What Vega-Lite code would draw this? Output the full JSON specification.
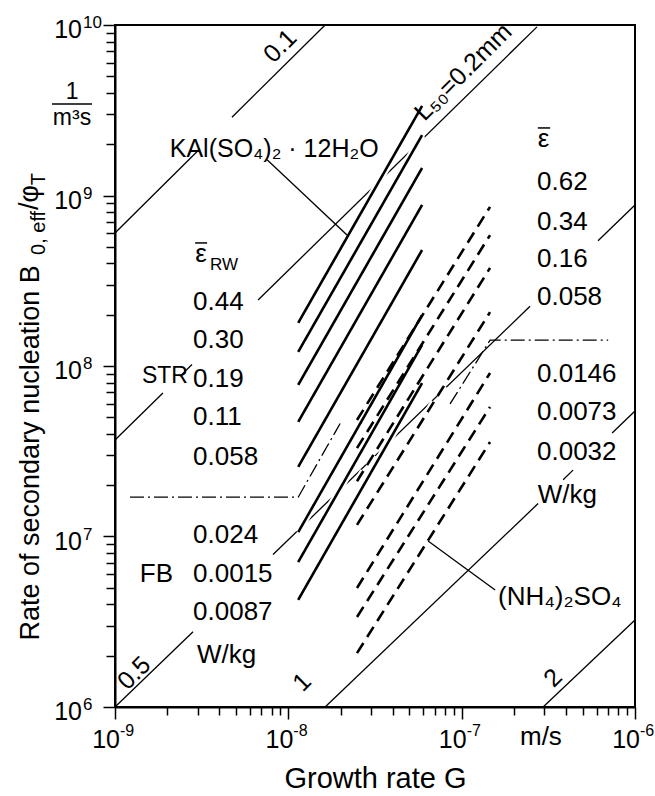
{
  "$schema": "https://vega.github.io/schema/vega-lite/v6.json",
  "width": 520,
  "height": 682,
  "autosize": {"type": "none"},
  "padding": {"left": 115, "top": 25, "right": 20, "bottom": 89},
  "background": "white",
  "config": {
    "view": {"stroke": "black", "strokeWidth": 2},
    "font": "Liberation Sans"
  },
  "datasets": {
    "sizeLines": [
      {"L": "0.1", "part": 1, "G": 1e-9, "B": 6.03e8},
      {"L": "0.1", "part": 1, "G": 3.09e-9, "B": 1.88e9},
      {"L": "0.1", "part": 2, "G": 4.73e-9, "B": 2.88e9},
      {"L": "0.1", "part": 2, "G": 1.63e-8, "B": 1e10},
      {"L": "0.2", "part": 1, "G": 1e-9, "B": 3.68e7},
      {"L": "0.2", "part": 1, "G": 1.89e-9, "B": 6.94e7},
      {"L": "0.2", "part": 2, "G": 2.37e-9, "B": 8.69e7},
      {"L": "0.2", "part": 2, "G": 2.78e-9, "B": 1.02e8},
      {"L": "0.2", "part": 3, "G": 6.69e-9, "B": 2.44e8},
      {"L": "0.2", "part": 3, "G": 2.72e-7, "B": 9.75e9},
      {"L": "0.5", "part": 1, "G": 1e-9, "B": 1e6},
      {"L": "0.5", "part": 1, "G": 2.82e-9, "B": 2.76e6},
      {"L": "0.5", "part": 2, "G": 8.16e-9, "B": 7.84e6},
      {"L": "0.5", "part": 2, "G": 2.48e-7, "B": 2.24e8},
      {"L": "0.5", "part": 3, "G": 6.12e-7, "B": 5.43e8},
      {"L": "0.5", "part": 3, "G": 1e-6, "B": 8.8e8},
      {"L": "1", "part": 1, "G": 1.63e-8, "B": 1e6},
      {"L": "1", "part": 1, "G": 2.76e-7, "B": 1.56e7},
      {"L": "1", "part": 2, "G": 3.85e-7, "B": 2.15e7},
      {"L": "1", "part": 2, "G": 4.39e-7, "B": 2.45e7},
      {"L": "1", "part": 3, "G": 7.38e-7, "B": 4.05e7},
      {"L": "1", "part": 3, "G": 1e-6, "B": 5.45e7},
      {"L": "2", "part": 1, "G": 2.95e-7, "B": 1e6},
      {"L": "2", "part": 1, "G": 1e-6, "B": 3.24e6}
    ],
    "measured": [
      {"salt": "KAl", "eps": "0.44", "G": 1.14e-8, "B": 1.79e8},
      {"salt": "KAl", "eps": "0.44", "G": 5.91e-8, "B": 3.35e9},
      {"salt": "KAl", "eps": "0.30", "G": 1.14e-8, "B": 1.21e8},
      {"salt": "KAl", "eps": "0.30", "G": 5.91e-8, "B": 2.26e9},
      {"salt": "KAl", "eps": "0.19", "G": 1.14e-8, "B": 7.75e7},
      {"salt": "KAl", "eps": "0.19", "G": 5.91e-8, "B": 1.45e9},
      {"salt": "KAl", "eps": "0.11", "G": 1.14e-8, "B": 4.70e7},
      {"salt": "KAl", "eps": "0.11", "G": 5.91e-8, "B": 8.80e8},
      {"salt": "KAl", "eps": "0.058", "G": 1.14e-8, "B": 2.56e7},
      {"salt": "KAl", "eps": "0.058", "G": 5.91e-8, "B": 4.79e8},
      {"salt": "KAl", "eps": "0.024", "G": 1.14e-8, "B": 1.06e7},
      {"salt": "KAl", "eps": "0.024", "G": 5.91e-8, "B": 1.99e8},
      {"salt": "KAl", "eps": "0.0015", "G": 1.14e-8, "B": 7.08e6},
      {"salt": "KAl", "eps": "0.0015", "G": 5.91e-8, "B": 1.33e8},
      {"salt": "KAl", "eps": "0.0087", "G": 1.14e-8, "B": 4.25e6},
      {"salt": "KAl", "eps": "0.0087", "G": 5.91e-8, "B": 7.94e7},
      {"salt": "NH4", "eps": "0.62", "G": 2.49e-8, "B": 4.82e7},
      {"salt": "NH4", "eps": "0.62", "G": 1.458e-7, "B": 8.58e8},
      {"salt": "NH4", "eps": "0.34", "G": 2.49e-8, "B": 3.30e7},
      {"salt": "NH4", "eps": "0.34", "G": 1.458e-7, "B": 5.86e8},
      {"salt": "NH4", "eps": "0.16", "G": 2.49e-8, "B": 2.11e7},
      {"salt": "NH4", "eps": "0.16", "G": 1.458e-7, "B": 3.76e8},
      {"salt": "NH4", "eps": "0.058", "G": 2.49e-8, "B": 1.17e7},
      {"salt": "NH4", "eps": "0.058", "G": 1.458e-7, "B": 2.07e8},
      {"salt": "NH4", "eps": "0.0146", "G": 2.49e-8, "B": 4.99e6},
      {"salt": "NH4", "eps": "0.0146", "G": 1.458e-7, "B": 9.10e7},
      {"salt": "NH4", "eps": "0.0073", "G": 2.49e-8, "B": 3.37e6},
      {"salt": "NH4", "eps": "0.0073", "G": 1.458e-7, "B": 5.75e7},
      {"salt": "NH4", "eps": "0.0032", "G": 2.49e-8, "B": 2.07e6},
      {"salt": "NH4", "eps": "0.0032", "G": 1.458e-7, "B": 3.58e7}
    ],
    "regimeBounds": [
      {"salt": "KAl", "G": 1.22e-9, "B": 1.70e7},
      {"salt": "KAl", "G": 1.14e-8, "B": 1.70e7},
      {"salt": "KAl", "G": 1.99e-8, "B": 4.60e7},
      {"salt": "NH4", "G": 8.57e-8, "B": 5.99e7},
      {"salt": "NH4", "G": 1.46e-7, "B": 1.42e8},
      {"salt": "NH4", "G": 7.0e-7, "B": 1.42e8}
    ],
    "leaders": [
      {"to": "KAl", "G": 7.54e-9, "B": 1.62e9},
      {"to": "KAl", "G": 2.18e-8, "B": 5.87e8},
      {"to": "NH4", "G": 6.40e-8, "B": 9.41e6},
      {"to": "NH4", "G": 1.56e-7, "B": 4.86e6}
    ],
    "xDecades": [
      {"G": 1e-9, "B": 1e6, "e": "-9"},
      {"G": 1e-8, "B": 1e6, "e": "-8"},
      {"G": 1e-7, "B": 1e6, "e": "-7"},
      {"G": 1e-6, "B": 1e6, "e": "-6"}
    ],
    "yDecades": [
      {"G": 1e-9, "B": 1e6, "e": "6"},
      {"G": 1e-9, "B": 1e7, "e": "7"},
      {"G": 1e-9, "B": 1e8, "e": "8"},
      {"G": 1e-9, "B": 1e9, "e": "9"},
      {"G": 1e-9, "B": 1e10, "e": "10"}
    ],
    "epsLabels": [
      {"t": "0.44", "G": 2.82e-9, "B": 2.13e8},
      {"t": "0.30", "G": 2.82e-9, "B": 1.28e8},
      {"t": "0.19", "G": 2.82e-9, "B": 7.54e7},
      {"t": "0.11", "G": 2.82e-9, "B": 4.51e7},
      {"t": "0.058", "G": 2.82e-9, "B": 2.62e7},
      {"t": "0.024", "G": 2.82e-9, "B": 9.16e6},
      {"t": "0.0015", "G": 2.82e-9, "B": 5.41e6},
      {"t": "0.0087", "G": 2.82e-9, "B": 3.24e6},
      {"t": "0.62", "G": 2.72e-7, "B": 1.08e9},
      {"t": "0.34", "G": 2.72e-7, "B": 6.28e8},
      {"t": "0.16", "G": 2.72e-7, "B": 3.81e8},
      {"t": "0.058", "G": 2.72e-7, "B": 2.28e8},
      {"t": "0.0146", "G": 2.72e-7, "B": 8.05e7},
      {"t": "0.0073", "G": 2.72e-7, "B": 4.82e7},
      {"t": "0.0032", "G": 2.72e-7, "B": 2.81e7},
      {"t": "ε", "G": 2.75e-7, "B": 1.92e9},
      {"t": "ε", "G": 2.90e-9, "B": 4.07e8}
    ],
    "epsSub": [
      {"t": "RW", "G": 3.53e-9, "B": 3.66e8}
    ],
    "bars": [
      {"G": 2.90e-9, "G2": 3.40e-9, "B": 5.27e8},
      {"G": 2.75e-7, "G2": 3.24e-7, "B": 2.49e9},
      {"G": 4.33e-10, "G2": 7.37e-10, "B": 3.44e9}
    ],
    "strLabel": [
      {"t": "STR", "G": 1.43e-9, "B": 7.94e7}
    ],
    "saltNote": [
      {"t": "KAl(SO₄)₂ · 12H₂O", "G": 2.07e-9, "B": 1.68e9}
    ],
    "notes": [
      {"t": "(NH₄)₂SO₄", "G": 1.62e-7, "B": 3.96e6},
      {"t": "FB", "G": 1.39e-9, "B": 5.41e6},
      {"t": "W/kg", "G": 2.97e-9, "B": 1.81e6},
      {"t": "W/kg", "G": 2.75e-7, "B": 1.57e7},
      {"t": "m/s", "G": 2.17e-7, "B": 5.98e5}
    ],
    "sizeTags": [
      {"t": "0.1", "G": 8.96e-9, "B": 7.53e9},
      {"t": "0.5", "G": 1.29e-9, "B": 1.58e6},
      {"t": "1", "G": 1.20e-8, "B": 1.40e6},
      {"t": "2", "G": 3.37e-7, "B": 1.48e6},
      {"t": "L₅₀=0.2mm", "G": 1.02e-7, "B": 5.30e9}
    ],
    "unitText": [
      {"t": "1", "G": 5.65e-10, "B": 4.05e9},
      {"t": "m³s", "G": 5.65e-10, "B": 2.85e9}
    ],
    "titleSub": [
      {"t": "0, eff", "G": 3.95e-10, "B": 4.48e8},
      {"t": "T", "G": 3.95e-10, "B": 1.15e9}
    ],
    "titleMain": [
      {"t": "/φ", "G": 3.59e-10, "B": 8.22e8}
    ]
  },
  "encoding": {
    "x": {
      "field": "G",
      "type": "quantitative",
      "scale": {"type": "log", "domain": [1e-9, 1e-6], "nice": false},
      "axis": {
        "values": [1e-9, 2e-9, 3e-9, 4e-9, 5e-9, 6e-9, 7e-9, 8e-9, 9e-9, 1e-8, 2e-8, 3e-8, 4e-8, 5e-8, 6e-8, 7e-8, 8e-8, 9e-8, 1e-7, 2e-7, 3e-7, 4e-7, 5e-7, 6e-7, 7e-7, 8e-7, 9e-7, 1e-6],
        "labels": false,
        "tickSize": {"condition": {"test": "abs(log(datum.value)/LN10 - round(log(datum.value)/LN10)) < 0.001", "value": 12}, "value": 8},
        "tickColor": "black",
        "tickWidth": 1.5,
        "domainColor": "black",
        "domainWidth": 2,
        "grid": false,
        "title": "Growth rate G",
        "titleFont": "Liberation Sans",
        "titleFontSize": 29,
        "titleFontWeight": "normal",
        "titleColor": "black",
        "titleBaseline": "alphabetic",
        "titleY": 80
      }
    },
    "y": {
      "field": "B",
      "type": "quantitative",
      "scale": {"type": "log", "domain": [1e6, 1e10], "nice": false},
      "axis": {
        "values": [1e6, 2e6, 3e6, 4e6, 5e6, 6e6, 7e6, 8e6, 9e6, 1e7, 2e7, 3e7, 4e7, 5e7, 6e7, 7e7, 8e7, 9e7, 1e8, 2e8, 3e8, 4e8, 5e8, 6e8, 7e8, 8e8, 9e8, 1e9, 2e9, 3e9, 4e9, 5e9, 6e9, 7e9, 8e9, 9e9, 1e10],
        "labels": false,
        "tickSize": {"condition": {"test": "abs(log(datum.value)/LN10 - round(log(datum.value)/LN10)) < 0.001", "value": 12}, "value": 9},
        "tickColor": "black",
        "tickWidth": 1.5,
        "domainColor": "black",
        "domainWidth": 2,
        "grid": false,
        "title": "Rate of secondary nucleation  B",
        "titleFont": "Liberation Sans",
        "titleFontSize": 27,
        "titleFontWeight": "normal",
        "titleColor": "black",
        "titleAngle": 270,
        "titleAlign": "left",
        "titleBaseline": "alphabetic",
        "titleX": -77,
        "titleY": 615
      }
    }
  },
  "layer": [
    {
      "data": {"name": "sizeLines"},
      "mark": {"type": "line", "color": "black", "strokeWidth": 1.3},
      "encoding": {"detail": [{"field": "L"}, {"field": "part"}]}
    },
    {
      "data": {"name": "measured"},
      "mark": {"type": "line", "color": "white", "strokeWidth": 7, "strokeCap": "butt"},
      "encoding": {
        "detail": [{"field": "salt"}, {"field": "eps"}],
        "strokeDash": {"field": "salt", "type": "nominal", "scale": {"domain": ["KAl", "NH4"], "range": [[1, 0], [12, 7]]}, "legend": null}
      }
    },
    {
      "data": {"name": "regimeBounds"},
      "mark": {"type": "line", "color": "black", "strokeWidth": 1.3, "strokeDash": [14, 4, 2, 4]},
      "encoding": {"detail": {"field": "salt"}, "order": {"field": "G"}}
    },
    {
      "data": {"name": "leaders"},
      "mark": {"type": "line", "color": "black", "strokeWidth": 1.3},
      "encoding": {"detail": {"field": "to"}}
    },
    {
      "data": {"name": "measured"},
      "mark": {"type": "line", "color": "black", "strokeWidth": 2.6, "strokeCap": "butt"},
      "encoding": {
        "detail": [{"field": "salt"}, {"field": "eps"}],
        "strokeDash": {"field": "salt", "type": "nominal", "scale": {"domain": ["KAl", "NH4"], "range": [[1, 0], [12, 7]]}, "legend": null}
      }
    },
    {
      "data": {"name": "xDecades"},
      "mark": {"type": "text", "font": "Liberation Sans", "fontSize": 25, "align": "right", "baseline": "alphabetic", "dx": 5, "dy": 41, "color": "black"},
      "encoding": {"text": {"value": "10"}}
    },
    {
      "data": {"name": "xDecades"},
      "mark": {"type": "text", "font": "Liberation Sans", "fontSize": 16, "align": "left", "baseline": "alphabetic", "dx": 5, "dy": 29, "color": "black"},
      "encoding": {"text": {"field": "e"}}
    },
    {
      "data": {"name": "yDecades"},
      "mark": {"type": "text", "font": "Liberation Sans", "fontSize": 25, "align": "right", "baseline": "alphabetic", "dx": -33, "dy": 13, "color": "black"},
      "encoding": {"text": {"value": "10"}}
    },
    {
      "data": {"name": "yDecades"},
      "mark": {"type": "text", "font": "Liberation Sans", "fontSize": 17, "align": "left", "baseline": "alphabetic", "dx": -32, "dy": 3, "color": "black"},
      "encoding": {"text": {"field": "e"}}
    },
    {
      "data": {"name": "epsLabels"},
      "mark": {"type": "text", "font": "Liberation Sans", "fontSize": 26, "align": "left", "baseline": "alphabetic", "color": "black"},
      "encoding": {"text": {"field": "t"}}
    },
    {
      "data": {"name": "epsSub"},
      "mark": {"type": "text", "font": "Liberation Sans", "fontSize": 17, "align": "left", "baseline": "alphabetic", "color": "black"},
      "encoding": {"text": {"field": "t"}}
    },
    {
      "data": {"name": "bars"},
      "mark": {"type": "rule", "color": "black", "strokeWidth": 1.5},
      "encoding": {"x2": {"field": "G2"}}
    },
    {
      "data": {"name": "strLabel"},
      "mark": {"type": "text", "font": "Liberation Sans", "fontSize": 23, "align": "left", "baseline": "alphabetic", "color": "black"},
      "encoding": {"text": {"field": "t"}}
    },
    {
      "data": {"name": "saltNote"},
      "mark": {"type": "text", "font": "Liberation Sans", "fontSize": 25, "align": "left", "baseline": "alphabetic", "color": "black"},
      "encoding": {"text": {"field": "t"}}
    },
    {
      "data": {"name": "notes"},
      "mark": {"type": "text", "font": "Liberation Sans", "fontSize": 26, "align": "left", "baseline": "alphabetic", "color": "black"},
      "encoding": {"text": {"field": "t"}}
    },
    {
      "data": {"name": "sizeTags"},
      "mark": {"type": "text", "font": "Liberation Sans", "fontSize": 25, "align": "center", "baseline": "middle", "angle": 315, "color": "black"},
      "encoding": {"text": {"field": "t"}}
    },
    {
      "data": {"name": "unitText"},
      "mark": {"type": "text", "font": "Liberation Sans", "fontSize": 23, "align": "center", "baseline": "middle", "color": "black"},
      "encoding": {"text": {"field": "t"}}
    },
    {
      "data": {"name": "titleSub"},
      "mark": {"type": "text", "font": "Liberation Sans", "fontSize": 20, "align": "left", "baseline": "alphabetic", "angle": 270, "color": "black"},
      "encoding": {"text": {"field": "t"}}
    },
    {
      "data": {"name": "titleMain"},
      "mark": {"type": "text", "font": "Liberation Sans", "fontSize": 27, "align": "left", "baseline": "alphabetic", "angle": 270, "color": "black"},
      "encoding": {"text": {"field": "t"}}
    }
  ]
}
